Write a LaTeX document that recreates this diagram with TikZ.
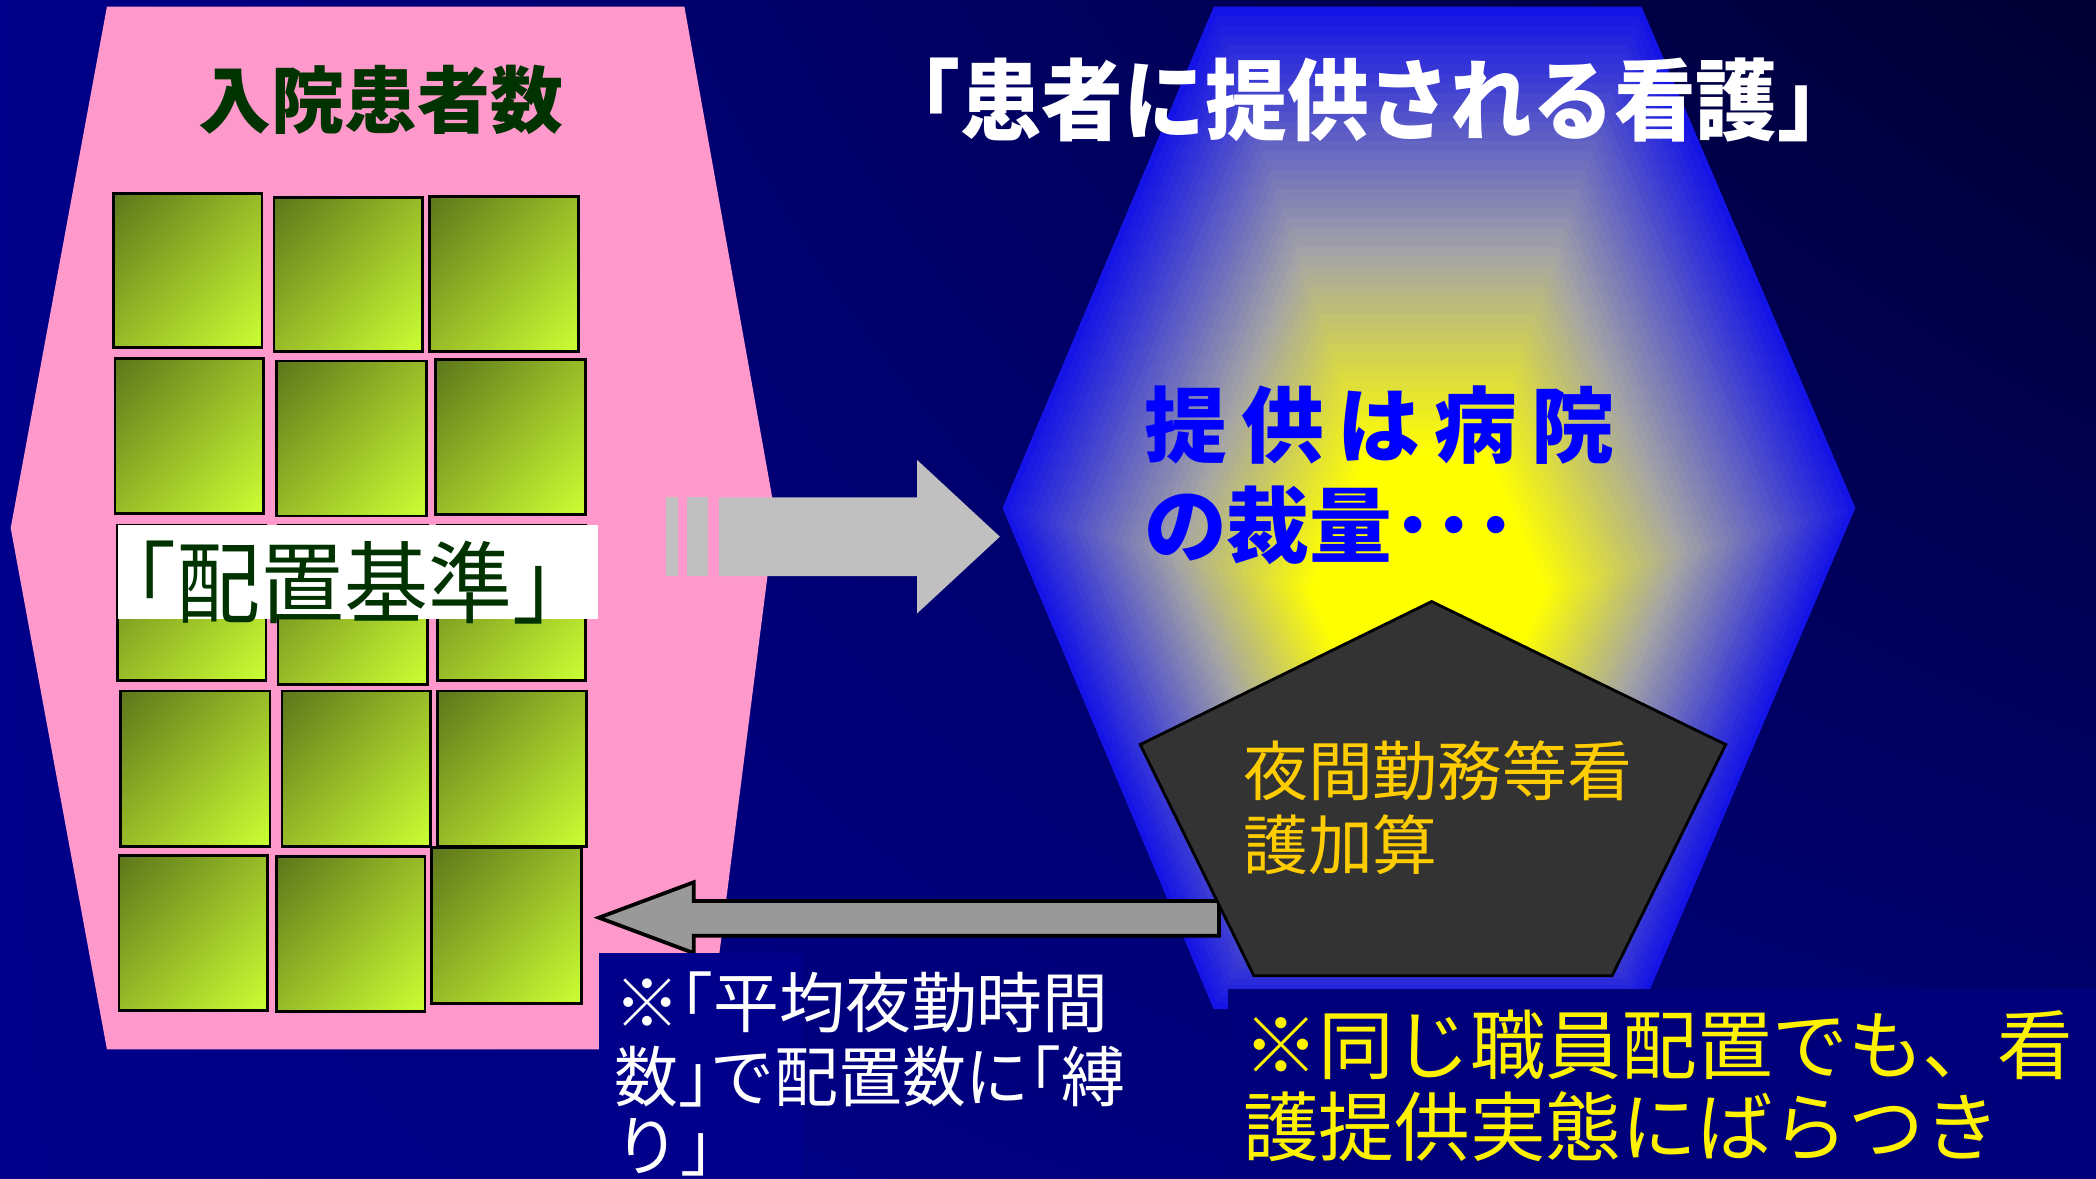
\documentclass[tikz,border=0pt]{standalone}
\usepackage{fontspec}
\newfontfamily\jp{Noto Sans CJK JP}
\usetikzlibrary{calc,shadings}
\definecolor{bgA}{RGB}{0,0,138}
\definecolor{bgC}{RGB}{0,0,50}
\definecolor{bgD}{RGB}{0,0,118}
\definecolor{pinkc}{RGB}{255,153,204}
\definecolor{sqdark}{RGB}{92,118,26}
\definecolor{sqmid}{RGB}{152,188,40}
\definecolor{sqlight}{RGB}{204,255,51}
\definecolor{hexblue}{RGB}{20,20,230}
\definecolor{glowmid}{RGB}{165,165,165}
\definecolor{glowyel}{RGB}{255,255,0}
\definecolor{darkgreen}{RGB}{0,51,0}
\definecolor{arrowlight}{RGB}{192,192,192}
\definecolor{arrowdark}{RGB}{153,153,153}
\definecolor{pentfill}{RGB}{51,51,51}
\definecolor{orangeT}{RGB}{255,204,0}
\definecolor{boxnavy}{RGB}{0,0,138}
\definecolor{boxnavy2}{RGB}{0,0,122}
\definecolor{bluetext}{RGB}{0,0,255}
\tikzset{
  lbl/.style={inner sep=0pt, outer sep=0pt},
  sq/.style={upper left=sqdark, lower right=sqlight, upper right=sqmid, lower left=sqmid, draw=black, line width=0.6pt},
}
\begin{document}
\begin{tikzpicture}[x=0.01cm,y=-0.01cm]
\useasboundingbox (0,0) rectangle (1568,882);
% background
\shade[upper left=bgA, lower left=bgA, upper right=bgC, lower right=bgD] (0,0) rectangle (1568,882);
% pink hexagon
\fill[pinkc] (80,5) -- (512,5) -- (580,385) -- (529,785) -- (80,785) -- (8,395) -- cycle;
% green squares
\foreach \xa/\ya/\xb/\yb in {85/145/196/260, 205/148/316/263, 321/147/433/263,
  86/268/197/384, 207/270/319/386, 326/269/438/385,
  88/393/199/509, 208/393/320/512, 327/393/438/509,
  90/517/202/633, 211/517/322/633, 327/517/439/633,
  89/640/200/756, 207/641/318/757, 323/634/435/751}{
  \shade[sq] (\xa,\ya) rectangle (\xb,\yb);
}
% white label box
\fill[white] (88,393) rectangle (447,463);
\node[lbl, text=darkgreen, font=\jp\fontsize{19}{22}\selectfont] (haichi) at (258,436) {\scalebox{0.94}[1]{｢配置基準｣}};
\node[lbl, text=darkgreen, font=\jp\bfseries\fontsize{15.5}{18}\selectfont] (nyuin) at (285,75) {入院患者数};
% glowing hexagon
\coordinate (hc) at (1068,465);
\coordinate (h1) at (908,5);
\coordinate (h2) at (1228,5);
\coordinate (h3) at (1388,380);
\coordinate (h4) at (1228,755);
\coordinate (h5) at (908,755);
\coordinate (h6) at (750,380);
\foreach \i in {0,...,63}{
  \pgfmathsetmacro\s{1-\i/64}
  \pgfmathsetmacro\t{min(1,(1-\s)/0.72)}
  \pgfmathsetmacro\ta{100*min(1,\t/0.55)}
  \pgfmathsetmacro\tb{100*max(0,(\t-0.55)/0.45)}
  \colorlet{glowtmp}{glowmid!\ta!hexblue}
  \fill[glowyel!\tb!glowtmp] ($(hc)!\s!(h1)$) -- ($(hc)!\s!(h2)$) -- ($(hc)!\s!(h3)$) -- ($(hc)!\s!(h4)$) -- ($(hc)!\s!(h5)$) -- ($(hc)!\s!(h6)$) -- cycle;
}
% title
\node[lbl, text=white, font=\jp\bfseries\fontsize{18.8}{22}\selectfont] (title) at (1024,75) {\scalebox{0.925}[1]{｢患者に提供される看護｣}};
% right arrow
\fill[arrowlight] (498,372) rectangle (507,431);
\fill[arrowlight] (514,372) rectangle (530,431);
\fill[arrowlight] (538,372) -- (686,372) -- (686,344) -- (748,401.5) -- (686,459) -- (686,431) -- (538,431) -- cycle;
% left arrow
\filldraw[fill=arrowdark, draw=black, line width=0.8pt] (912,674) -- (519,674) -- (519,660) -- (448,686.5) -- (519,713) -- (519,700) -- (912,700) -- cycle;
% pentagon
\filldraw[fill=pentfill, draw=black, line width=0.6pt] (1071,450) -- (1291,557) -- (1206,730) -- (938,730) -- (853,557) -- cycle;
\node[lbl, anchor=west, text=orangeT, font=\jp\fontsize{13.8}{16}\selectfont] (pent1) at (930,577) {夜間勤務等看};
\node[lbl, anchor=west, text=orangeT, font=\jp\fontsize{13.8}{16}\selectfont] (pent2) at (930,632) {護加算};
% blue text
\node[lbl, anchor=west, text=bluetext, font=\jp\bfseries\fontsize{17.6}{21}\selectfont] (blue1) at (856,318) {提\kern3pt 供\kern3pt は\kern3pt 病\kern3pt 院};
\node[lbl, anchor=west, text=bluetext, font=\jp\bfseries\fontsize{17.6}{21}\selectfont] (blue2) at (856,393) {の裁量･･･};
% note boxes
\fill[boxnavy] (448,713) rectangle (600,882);
\fill[boxnavy2] (919,740) rectangle (1568,882);
\node[lbl, anchor=west, text=white, font=\jp\fontsize{14}{16}\selectfont] (note1) at (460,750) {※｢平均夜勤時間};
\node[lbl, anchor=west, text=white, font=\jp\fontsize{14}{16}\selectfont] (note2) at (460,805) {\scalebox{0.97}[1]{数｣で配置数に｢縛}};
\node[lbl, anchor=west, text=white, font=\jp\fontsize{14}{16}\selectfont] (note3) at (460,858) {り｣};
\node[lbl, anchor=west, text=yellow, font=\jp\fontsize{16.1}{19}\selectfont] (yel1) at (930,782) {※同じ職員配置でも、看};
\node[lbl, anchor=west, text=yellow, font=\jp\fontsize{16.1}{19}\selectfont] (yel2) at (930,843) {護提供実態にばらつき};
\end{tikzpicture}
\end{document}
